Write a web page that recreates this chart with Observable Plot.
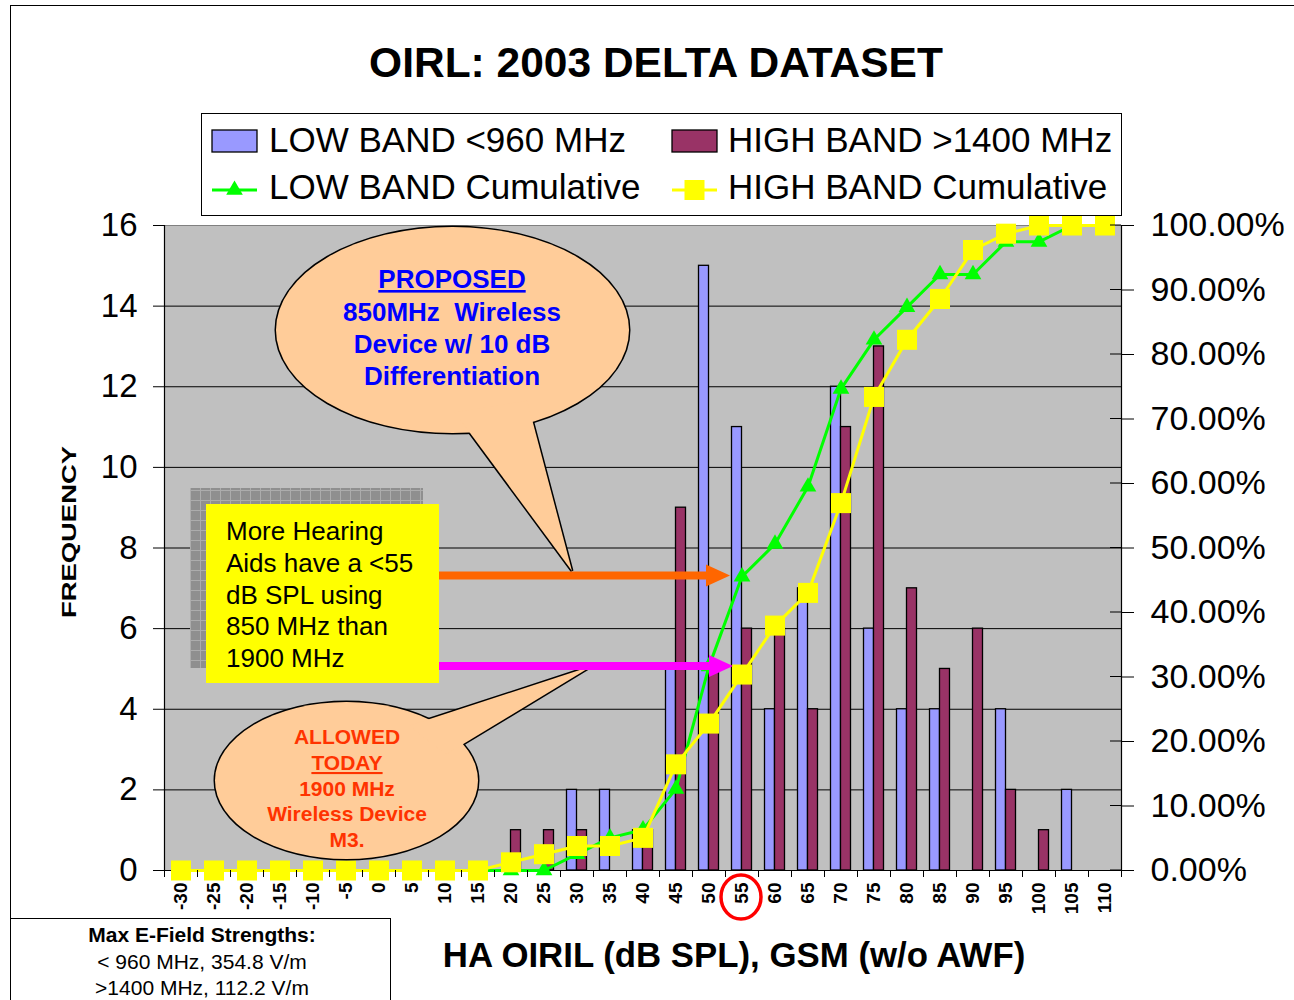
<!DOCTYPE html>
<html><head><meta charset="utf-8">
<script src="https://cdn.jsdelivr.net/npm/d3@7"></script>
<script src="https://cdn.jsdelivr.net/npm/@observablehq/plot@0.6"></script>
<style>body{margin:0;background:#fff} svg{display:block}</style>
</head><body><div id="chart"></div>
<script>
const categories = [-30,-25,-20,-15,-10,-5,0,5,10,15,20,25,30,35,40,45,50,55,60,65,70,75,80,85,90,95,100,105,110];
const lowBand  = [0,0,0,0,0,0,0,0,0,0,0,0,2,2,1,5,15,11,4,7,12,6,4,4,0,4,0,2,0];
const highBand = [0,0,0,0,0,0,0,0,0,0,1,1,1,0,1,9,5,6,6,4,11,13,7,5,6,2,1,0,0];
const lowCumulative  = [0,0,0,0,0,0,0,0,0,0,0,0,2.53,5.06,6.33,12.66,31.65,45.57,50.63,59.49,74.68,82.28,87.34,92.41,92.41,97.47,97.47,100,100];
const highCumulative = [0,0,0,0,0,0,0,0,0,0,1.27,2.53,3.80,3.80,5.06,16.46,22.78,30.38,37.97,43.04,56.96,73.42,82.28,88.61,96.20,98.73,100,100,100];
const leftTicks = [0,2,4,6,8,10,12,14,16];
const rightTickLabels = ["0.00%","10.00%","20.00%","30.00%","40.00%","50.00%","60.00%","70.00%","80.00%","90.00%","100.00%"];
const seriesNames = ["LOW BAND <960 MHz","HIGH BAND >1400 MHz","LOW BAND Cumulative","HIGH BAND Cumulative"];
const titleText = "OIRL: 2003 DELTA DATASET";
const xTitle = "HA OIRIL (dB SPL), GSM (w/o AWF)";
const yTitle = "FREQUENCY";

const FONT = "'Liberation Sans', Arial, Helvetica, sans-serif";
const C_LOW = "#9999FF", C_HIGH = "#993366", C_LCUM = "#00FF00", C_HCUM = "#FFFF00";
const PEACH = "#FFCC99";

const rows = categories.map((c, i) => ({c, low: lowBand[i], high: highBand[i], lowCum: lowCumulative[i], highCum: highCumulative[i]}));
const pct = p => p / 100 * 16;           // right axis 0–100% spans left axis 0–16
const step = 5;
const boundaries = [categories[0] - step / 2, ...categories.map(c => c + step / 2)];
const rightTickValues = rightTickLabels.map((_, i) => i * 1.6);

function overlay(index, scales, values, dimensions) {
  const {width, marginRight} = dimensions;
  const right = width - marginRight;
  const y = scales.y;
  const g = d3.create("svg:g").attr("font-family", FONT).attr("text-anchor", "start");
  const defs = g.append("defs");
  const pat = defs.append("pattern").attr("id", "shadowGrid").attr("width", 10).attr("height", 10).attr("patternUnits", "userSpaceOnUse");
  pat.append("rect").attr("width", 10).attr("height", 10).attr("fill", "#8f8f8f");
  pat.append("path").attr("d", "M0,0.5H10M0.5,0V10").attr("stroke", "#acacac").attr("stroke-width", 1);

  // inner part of right-axis ticks
  rightTickValues.forEach(v => {
    g.append("line").attr("x1", right - 11).attr("x2", right).attr("y1", y(v)).attr("y2", y(v)).attr("stroke", "#000");
  });

  // title
  g.append("text").attr("x", 656).attr("y", 77).attr("text-anchor", "middle")
    .attr("font-size", 42.5).attr("font-weight", "bold").text(titleText);

  // legend
  g.append("rect").attr("x", 201.5).attr("y", 113.5).attr("width", 920).attr("height", 102)
    .attr("fill", "#fff").attr("stroke", "#000");
  const lx = [212, 672], ly = [141, 190];
  g.append("rect").attr("x", lx[0]).attr("y", 130).attr("width", 45).attr("height", 22).attr("fill", C_LOW).attr("stroke", "#000").attr("stroke-width", 1.3);
  g.append("rect").attr("x", lx[1]).attr("y", 130).attr("width", 45).attr("height", 22).attr("fill", C_HIGH).attr("stroke", "#000").attr("stroke-width", 1.3);
  g.append("line").attr("x1", lx[0]).attr("x2", lx[0] + 45).attr("y1", ly[1]).attr("y2", ly[1]).attr("stroke", C_LCUM).attr("stroke-width", 3);
  g.append("path").attr("transform", `translate(${lx[0] + 22.5},${ly[1]})`).attr("d", d3.symbol(d3.symbolTriangle, 120)()).attr("fill", C_LCUM);
  g.append("line").attr("x1", lx[1]).attr("x2", lx[1] + 45).attr("y1", ly[1]).attr("y2", ly[1]).attr("stroke", C_HCUM).attr("stroke-width", 3);
  g.append("rect").attr("x", lx[1] + 12.5).attr("y", ly[1] - 10).attr("width", 20).attr("height", 20).attr("fill", C_HCUM);
  [[269, 152, 0], [728, 152, 1], [269, 199, 2], [728, 199, 3]].forEach(([x, yy, i]) => {
    g.append("text").attr("x", x).attr("y", yy).attr("text-anchor", "start").attr("font-size", 35).text(seriesNames[i]);
  });

  // y-axis title
  g.append("text").attr("transform", "translate(76,532) rotate(-90)").attr("text-anchor", "middle")
    .attr("font-size", 21).attr("font-weight", "bold")
    .attr("textLength", 172).attr("lengthAdjust", "spacingAndGlyphs").text(yTitle);

  // x-axis title
  g.append("text").attr("x", 734).attr("y", 967).attr("text-anchor", "middle")
    .attr("font-size", 34.8).attr("font-weight", "bold").text(xTitle);

  // speech bubbles
  function bubble(cx, cy, rx, ry, b1, tip, b2) {
    const ext = p => [tip[0] + (p[0] - tip[0]) * 1.15, tip[1] + (p[1] - tip[1]) * 1.15];
    const pts = [ext(b1), tip, ext(b2)].map(p => p.join(",")).join(" ");
    g.append("ellipse").attr("cx", cx).attr("cy", cy).attr("rx", rx).attr("ry", ry).attr("fill", "none").attr("stroke", "#000").attr("stroke-width", 3);
    g.append("polygon").attr("points", pts).attr("fill", "none").attr("stroke", "#000").attr("stroke-width", 3).attr("stroke-linejoin", "miter");
    g.append("ellipse").attr("cx", cx).attr("cy", cy).attr("rx", rx).attr("ry", ry).attr("fill", PEACH);
    g.append("polygon").attr("points", pts).attr("fill", PEACH);
  }
  function lines(x, ys, texts, size, color, underlineIndex) {
    texts.forEach((t, i) => {
      const el = g.append("text").attr("x", x).attr("y", ys[i]).attr("text-anchor", "middle")
        .attr("font-size", size).attr("font-weight", "bold").attr("fill", color)
        .attr("xml:space", "preserve").style("white-space", "pre").text(t);
      if (i === underlineIndex) el.style("text-decoration", "underline");
    });
  }
  bubble(452.5, 330, 176.5, 103, [470, 433], [572, 571], [533, 423]);
  lines(452, [288, 321, 353, 385], ["PROPOSED", "850MHz  Wireless", "Device w/ 10 dB", "Differentiation"], 26, "#0000FF", 0);

  bubble(346.5, 780.5, 131.5, 78.5, [433, 718], [592, 666], [465, 743]);
  lines(347, [744, 770, 796, 821, 847], ["ALLOWED", "TODAY", "1900 MHz", "Wireless Device", "M3."], 21, "#FF3300", 1);

  // yellow note box with shadow
  g.append("rect").attr("x", 190).attr("y", 488).attr("width", 233).attr("height", 180).attr("fill", "url(#shadowGrid)");
  // arrows
  function arrow(x1, x2, yy, color) {
    g.append("rect").attr("x", x1).attr("y", yy - 4).attr("width", x2 - x1 - 20).attr("height", 8).attr("fill", color);
    g.append("polygon").attr("points", `${x2 - 24},${yy - 11} ${x2},${yy} ${x2 - 24},${yy + 11}`).attr("fill", color);
  }
  arrow(436, 730, 575.5, "#FF6600");
  arrow(436, 733, 666, "#FF00FF");
  g.append("rect").attr("x", 206).attr("y", 504).attr("width", 233).attr("height", 179).attr("fill", "#FFFF00");
  ["More Hearing", "Aids have a <55", "dB SPL using", "850 MHz than", "1900 MHz"].forEach((t, i) => {
    g.append("text").attr("x", 226).attr("y", 540 + i * 31.8).attr("text-anchor", "start").attr("font-size", 26).attr("fill", "#000").text(t);
  });

  // red circle around 55
  g.append("ellipse").attr("cx", 741).attr("cy", 897).attr("rx", 20).attr("ry", 22)
    .attr("fill", "none").attr("stroke", "#FF0000").attr("stroke-width", 3.5);

  // bottom-left info box
  g.append("rect").attr("x", 10.5).attr("y", 918.5).attr("width", 380).attr("height", 100).attr("fill", "#fff").attr("stroke", "#000");
  g.append("text").attr("x", 202).attr("y", 942).attr("text-anchor", "middle").attr("font-size", 21).attr("font-weight", "bold").text("Max E-Field Strengths:");
  g.append("text").attr("x", 202).attr("y", 969).attr("text-anchor", "middle").attr("font-size", 21).text("< 960 MHz, 354.8 V/m");
  g.append("text").attr("x", 202).attr("y", 995).attr("text-anchor", "middle").attr("font-size", 21).text(">1400 MHz, 112.2 V/m");
  return g.node();
}

function outerBorder() {
  return d3.create("svg:rect").attr("x", 10.5).attr("y", 5.5).attr("width", 1300).attr("height", 1100)
    .attr("fill", "none").attr("stroke", "#000").attr("stroke-width", 1).node();
}

const chart = Plot.plot({
  width: 1294,
  height: 1000,
  marginLeft: 164,
  marginRight: 173,
  marginTop: 225,
  marginBottom: 130,
  style: {fontFamily: FONT, background: "#fff", overflow: "visible", color: "#000"},
  x: {type: "linear", domain: [categories[0] - step / 2, categories[categories.length - 1] + step / 2], label: null},
  y: {domain: [0, 16], label: null},
  marks: [
    outerBorder,
    Plot.frame({fill: "#C0C0C0", stroke: "#808080"}),
    Plot.ruleY([2, 4, 6, 8, 10, 12, 14], {stroke: "#000", strokeWidth: 1}),
    Plot.rectY(rows.filter(d => d.low > 0), {x1: d => d.c - step / 2, x2: d => d.c + step / 2, y: "low", insetLeft: 6.5, insetRight: 16.5, fill: C_LOW, stroke: "#000", strokeWidth: 1.3}),
    Plot.rectY(rows.filter(d => d.high > 0), {x1: d => d.c - step / 2, x2: d => d.c + step / 2, y: "high", insetLeft: 16.5, insetRight: 6.5, fill: C_HIGH, stroke: "#000", strokeWidth: 1.3}),
    Plot.ruleX([boundaries[0], boundaries[boundaries.length - 1]], {stroke: "#000", strokeWidth: 1.2}),
    Plot.ruleY([0], {stroke: "#000", strokeWidth: 1.2}),
    Plot.line(rows, {x: "c", y: d => pct(d.lowCum), stroke: C_LCUM, strokeWidth: 3}),
    Plot.dot(rows, {x: "c", y: d => pct(d.lowCum), symbol: "triangle", r: 6.2, fill: C_LCUM}),
    Plot.line(rows, {x: "c", y: d => pct(d.highCum), stroke: C_HCUM, strokeWidth: 3}),
    Plot.dot(rows, {x: "c", y: d => pct(d.highCum), symbol: "square", r: 11.3, fill: C_HCUM}),
    Plot.axisY({anchor: "left", ticks: leftTicks, tickSize: 11, tickPadding: 16, fontSize: 33, tickFormat: d => String(d), label: null}),
    Plot.axisY({anchor: "right", ticks: rightTickValues, tickSize: 12, tickPadding: 17, fontSize: 34, tickFormat: d => rightTickLabels[Math.round(d / 1.6)], label: null}),
    Plot.axisX({anchor: "bottom", ticks: boundaries, tickSize: 7, tickFormat: () => "", label: null}),
    Plot.axisX({anchor: "bottom", ticks: categories, tickSize: 0, tickPadding: 12, tickRotate: -90, fontSize: 19, fontWeight: "bold", tickFormat: d => String(d), label: null}),
    overlay
  ]
});
document.getElementById("chart").appendChild(chart);
</script>
</body></html>
